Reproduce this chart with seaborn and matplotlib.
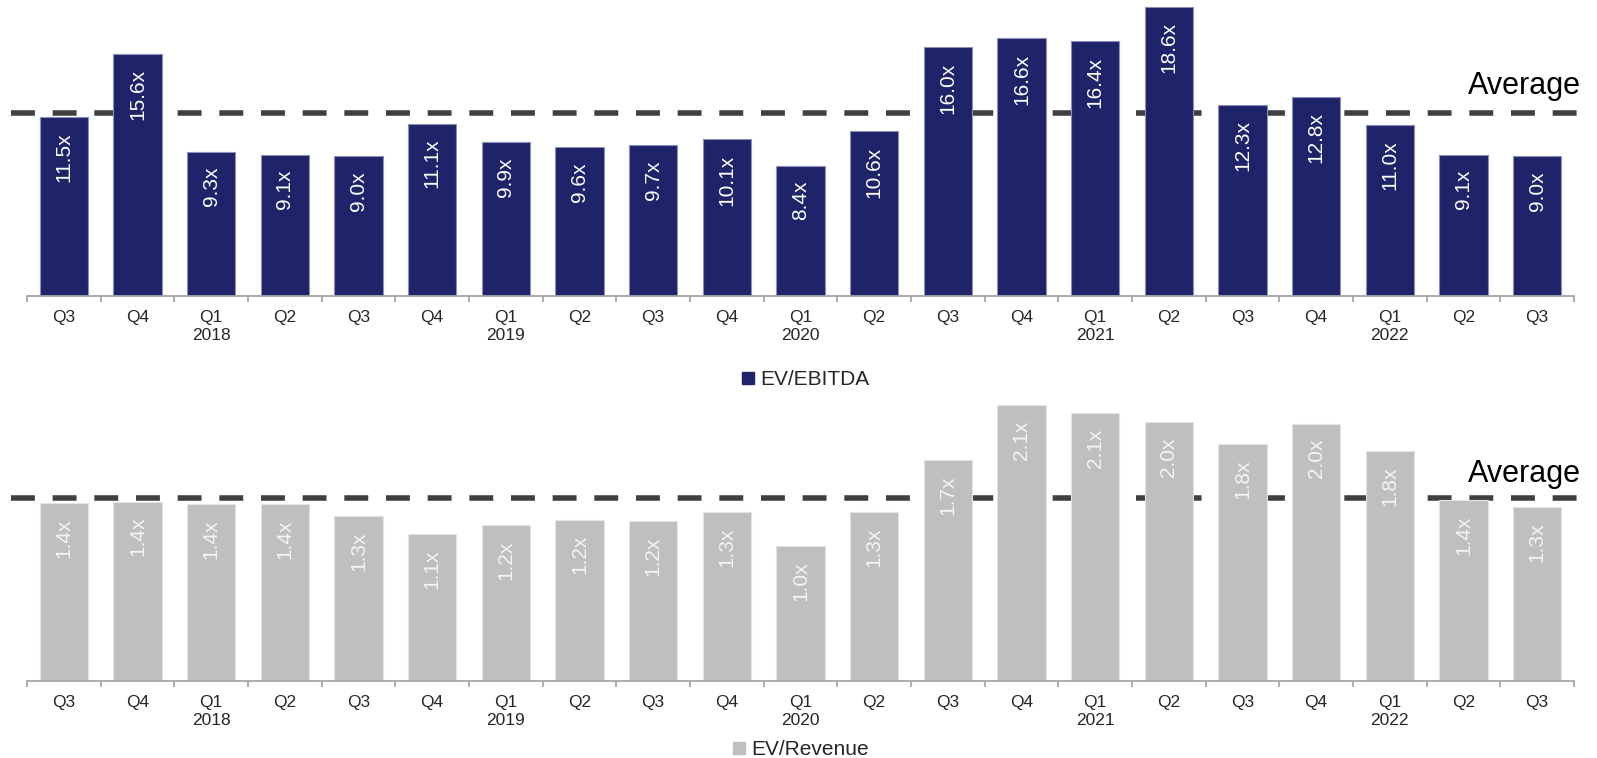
import matplotlib
matplotlib.use("Agg")
import matplotlib.pyplot as plt
import seaborn as sns
import pandas as pd
from matplotlib.lines import Line2D

# quarterly multiples, Q3 2017 -> Q3 2022
periods = ["Q3 2017", "Q4 2017", "Q1 2018", "Q2 2018", "Q3 2018", "Q4 2018",
           "Q1 2019", "Q2 2019", "Q3 2019", "Q4 2019", "Q1 2020", "Q2 2020",
           "Q3 2020", "Q4 2020", "Q1 2021", "Q2 2021", "Q3 2021", "Q4 2021",
           "Q1 2022", "Q2 2022", "Q3 2022"]
tick_labels = ["Q3", "Q4", "Q1\n2018", "Q2", "Q3", "Q4", "Q1\n2019", "Q2", "Q3", "Q4",
               "Q1\n2020", "Q2", "Q3", "Q4", "Q1\n2021", "Q2", "Q3", "Q4",
               "Q1\n2022", "Q2", "Q3"]
ev_ebitda = [11.5, 15.6, 9.3, 9.1, 9.0, 11.1, 9.9, 9.6, 9.7, 10.1, 8.4, 10.6,
             16.0, 16.6, 16.4, 18.6, 12.3, 12.8, 11.0, 9.1, 9.0]
ev_revenue = [1.37, 1.38, 1.36, 1.36, 1.27, 1.13, 1.20, 1.24, 1.23, 1.30, 1.04, 1.30,
              1.70, 2.12, 2.06, 1.99, 1.82, 1.98, 1.77, 1.39, 1.34]
ebitda_avg = 11.8
revenue_avg = 1.41

navy = "#1F2369"
grey = "#BFBFBF"
axis_grey = "#A6A6A6"

sns.set_style("white")
plt.rcParams["font.family"] = ["Liberation Sans", "DejaVu Sans"]

df = pd.DataFrame({"period": periods, "ebitda": ev_ebitda, "revenue": ev_revenue})

fig = plt.figure(figsize=(15.97, 7.58), dpi=100)
ax1 = fig.add_axes([0.0169, 0.6095, 0.9687, 0.389])
ax2 = fig.add_axes([0.0169, 0.1016, 0.9687, 0.3945])


def draw_panel(ax, col, color, edge, avg, ymax, label_color, avg_text_off):
    sns.barplot(data=df, x="period", y=col, color=color, saturation=1, width=0.66,
                edgecolor=edge, linewidth=0.8, ax=ax)
    # bars in front of the average line
    for p in ax.patches:
        p.set_zorder(3)
    ax.set_xlim(-0.5, len(periods) - 0.5)
    ax.set_ylim(0, ymax)
    ax.plot([-0.72, len(periods) - 0.35], [avg, avg], color="#404040", lw=4,
            linestyle=(0, (4.3, 3.2)), zorder=1, clip_on=False)
    ax.text(len(periods) - 0.4, avg + avg_text_off, "Average", fontsize=22,
            ha="right", va="center", color="black", zorder=4)
    for i, v in enumerate(df[col]):
        ax.annotate(f"{v:.1f}x", (i, v), xytext=(0, -11), textcoords="offset points",
                    ha="center", va="top", rotation=90, fontsize=15, color=label_color,
                    zorder=5)
    for s in ["top", "right", "left"]:
        ax.spines[s].set_visible(False)
    ax.spines["bottom"].set_color(axis_grey)
    ax.spines["bottom"].set_linewidth(1.3)
    ax.spines["bottom"].set_zorder(4)
    ax.set_yticks([])
    ax.set_xticks(range(len(periods)))
    ax.set_xticklabels(tick_labels, fontsize=12.5, linespacing=1.3)
    ax.set_xticks([k - 0.5 for k in range(len(periods) + 1)], minor=True)
    ax.tick_params(axis="x", which="major", length=0, pad=10)
    ax.tick_params(axis="x", which="minor", length=4.5, width=1.3, color=axis_grey,
                   direction="out", bottom=True)
    ax.set_xlabel("")
    ax.set_ylabel("")


draw_panel(ax1, "ebitda", navy, "#8C8FB8", ebitda_avg, 18.98, "white", 1.72)
draw_panel(ax2, "revenue", grey, "#E3E3E3", revenue_avg, 2.30, "#F4F4F4", 0.18)

fig.legend(handles=[Line2D([], [], marker="s", color=navy, linestyle="none", markersize=8)],
           labels=["EV/EBITDA"], loc="center", bbox_to_anchor=(0.503, 0.4987),
           frameon=False, fontsize=15, handletextpad=0.1, handlelength=1.0)
fig.legend(handles=[Line2D([], [], marker="s", color=grey, linestyle="none", markersize=8)],
           labels=["EV/Revenue"], loc="center", bbox_to_anchor=(0.5003, 0.0106),
           frameon=False, fontsize=15, handletextpad=0.1, handlelength=1.0)

fig.savefig("out.png", dpi=100)
